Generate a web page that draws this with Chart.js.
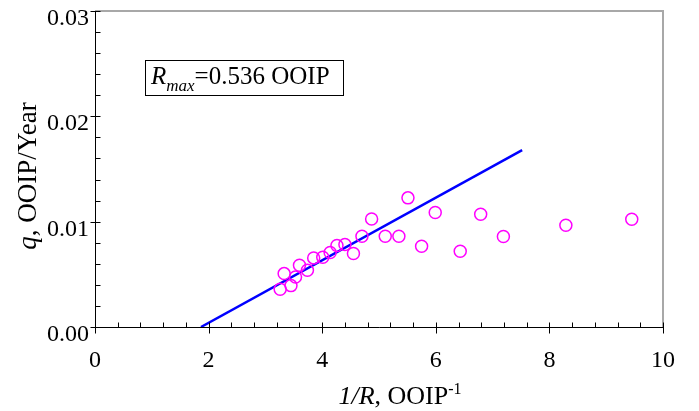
<!DOCTYPE html>
<html><head><meta charset="utf-8">
<script src="https://cdn.jsdelivr.net/npm/chart.js@4/dist/chart.umd.min.js"></script>
<style>html,body{margin:0;padding:0;background:#fff}#wrap{width:699px;height:411px}</style>
</head><body><div id="wrap"><canvas id="c" width="699" height="411"></canvas></div>
<script>
// Observed data: 1/R (OOIP^-1) vs q (OOIP/Year)
const invR  = [3.26, 3.33, 3.45, 3.53, 3.60, 3.74, 3.85, 4.01, 4.14, 4.26, 4.40, 4.55,
               4.70, 4.87, 5.11, 5.35, 5.51, 5.75, 5.99, 6.43, 6.79, 7.19, 8.29, 9.45];
const qRate = [0.00358, 0.00507, 0.00393, 0.00475, 0.00586, 0.00539, 0.00656, 0.00662,
               0.00707, 0.00774, 0.00783, 0.00698, 0.00862, 0.01026, 0.00862, 0.00862,
               0.01226, 0.00767, 0.01087, 0.00719, 0.01071, 0.00859, 0.00966, 0.01023];
// Fitted straight line
const fitX = [1.866, 7.52];
const fitY = [0, 0.0168];
// Axes
const xTicks = [0, 2, 4, 6, 8, 10];
const xTickLabels = ['0', '2', '4', '6', '8', '10'];
const yTicks = [0, 0.01, 0.02, 0.03];
const yTickLabels = ['0.00', '0.01', '0.02', '0.03'];
const minorPerMajor = 5;
const rmaxText = '=0.536 OOIP';

const FONT = "'Liberation Serif', 'Times New Roman', serif";

function drawRuns(ctx, runs, x, y, align) {
  let total = 0;
  runs.forEach(r => { ctx.font = r.font; r.w = ctx.measureText(r.t).width; total += r.w; });
  let cx = align === 'center' ? x - total / 2 : x;
  ctx.textAlign = 'left';
  ctx.textBaseline = 'alphabetic';
  runs.forEach(r => { ctx.font = r.font; ctx.fillText(r.t, cx, y + (r.dy || 0)); cx += r.w; });
}

const decor = {
  id: 'decor',
  afterDraw(chart) {
    const ctx = chart.ctx, xs = chart.scales.x, ys = chart.scales.y, a = chart.chartArea;
    ctx.save();
    // gray top/right frame
    ctx.strokeStyle = '#a8a8a8'; ctx.lineWidth = 2;
    ctx.beginPath(); ctx.moveTo(a.left, a.top); ctx.lineTo(a.right, a.top); ctx.lineTo(a.right, a.bottom); ctx.stroke();
    // black axes
    ctx.strokeStyle = '#000'; ctx.lineWidth = 1;
    const bx = Math.round(a.left) + 0.5, by = Math.round(a.bottom) + 0.5;
    ctx.beginPath(); ctx.moveTo(bx, a.top); ctx.lineTo(bx, by); ctx.lineTo(a.right, by); ctx.stroke();
    // x ticks
    ctx.beginPath();
    for (let i = 0; i < xTicks.length; i++) {
      const px = Math.round(xs.getPixelForValue(xTicks[i])) + 0.5;
      ctx.moveTo(px, by - 5); ctx.lineTo(px, by + 6);
      if (i < xTicks.length - 1) {
        const step = (xTicks[i + 1] - xTicks[i]) / minorPerMajor;
        for (let k = 1; k < minorPerMajor; k++) {
          const mx = Math.round(xs.getPixelForValue(xTicks[i] + k * step)) + 0.5;
          ctx.moveTo(mx, by - 5); ctx.lineTo(mx, by);
        }
      }
    }
    // y ticks
    for (let i = 0; i < yTicks.length; i++) {
      const py = Math.round(ys.getPixelForValue(yTicks[i])) + 0.5;
      ctx.moveTo(bx - 5, py); ctx.lineTo(bx + 5, py);
      if (i < yTicks.length - 1) {
        const step = (yTicks[i + 1] - yTicks[i]) / minorPerMajor;
        for (let k = 1; k < minorPerMajor; k++) {
          const my = Math.round(ys.getPixelForValue(yTicks[i] + k * step)) + 0.5;
          ctx.moveTo(bx, my); ctx.lineTo(bx + 5, my);
        }
      }
    }
    ctx.stroke();
    // tick labels
    ctx.fillStyle = '#000';
    ctx.font = '24px ' + FONT;
    ctx.textAlign = 'center'; ctx.textBaseline = 'alphabetic';
    xTicks.forEach((v, i) => ctx.fillText(xTickLabels[i], xs.getPixelForValue(v), 367));
    ctx.textAlign = 'right';
    yTicks.forEach((v, i) => ctx.fillText(yTickLabels[i], 89, ys.getPixelForValue(v) + 14));
    // x title
    drawRuns(ctx, [
      { t: '1/R', font: 'italic 26px ' + FONT },
      { t: ', OOIP', font: '26px ' + FONT },
      { t: '-1', font: '16px ' + FONT, dy: -10 }
    ], 400, 404, 'center');
    // y title
    ctx.save();
    ctx.translate(36, 176); ctx.rotate(-Math.PI / 2);
    drawRuns(ctx, [
      { t: 'q', font: 'italic 27px ' + FONT },
      { t: ', OOIP/Year', font: '27px ' + FONT }
    ], 0, 0, 'center');
    ctx.restore();
    // annotation box
    ctx.strokeStyle = '#000'; ctx.lineWidth = 1;
    ctx.strokeRect(145.5, 60.5, 198, 35);
    drawRuns(ctx, [
      { t: 'R', font: 'italic 25px ' + FONT },
      { t: 'max', font: 'italic 17px ' + FONT, dy: 7 },
      { t: rmaxText, font: '25px ' + FONT }
    ], 151, 84, 'left');
    ctx.restore();
  }
};

new Chart(document.getElementById('c'), {
  type: 'scatter',
  data: {
    datasets: [
      {
        label: 'data',
        data: invR.map((x, i) => ({ x: x, y: qRate[i] })),
        pointStyle: 'circle', pointRadius: 6, pointHoverRadius: 6,
        borderColor: '#ff00ff', backgroundColor: 'rgba(0,0,0,0)', pointBorderWidth: 1.5,
        showLine: false
      },
      {
        label: 'fit',
        data: fitX.map((x, i) => ({ x: x, y: fitY[i] })),
        showLine: true, pointRadius: 0, borderColor: '#0000ff', borderWidth: 2.5,
        backgroundColor: '#0000ff', fill: false
      }
    ]
  },
  options: {
    responsive: false, devicePixelRatio: 1, animation: false,
    layout: { padding: { top: 11, right: 36, left: 0, bottom: 0 } },
    plugins: { legend: { display: false }, tooltip: { enabled: false } },
    scales: {
      x: { type: 'linear', min: 0, max: 10,
           ticks: { display: false }, grid: { display: false }, border: { display: false },
           afterFit: s => { s.height = 84; } },
      y: { type: 'linear', min: 0, max: 0.03,
           ticks: { display: false }, grid: { display: false }, border: { display: false },
           afterFit: s => { s.width = 95; } }
    }
  },
  plugins: [decor]
});
</script>
</body></html>
